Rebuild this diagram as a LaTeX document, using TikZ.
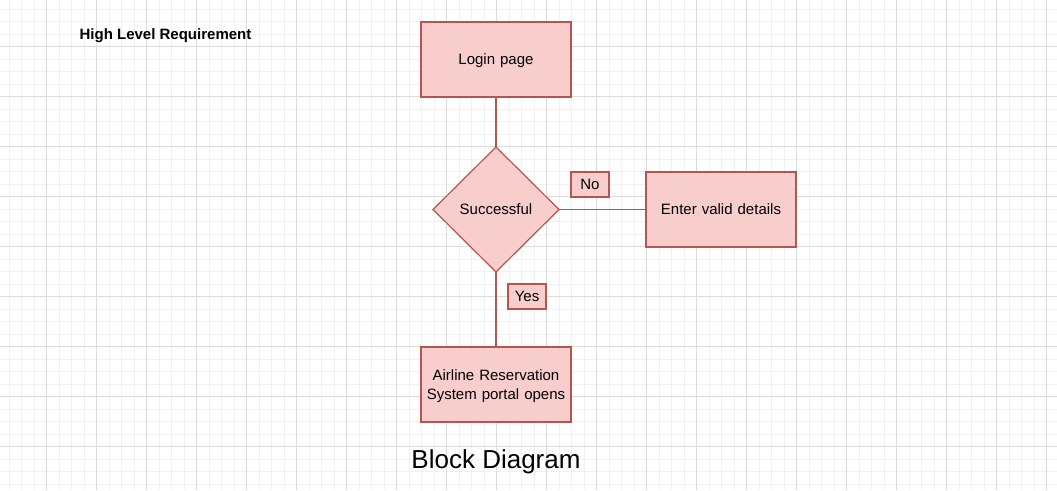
\documentclass[tikz,border=0pt]{standalone}
\usepackage{fontspec}
\setmainfont{Liberation Sans}
\usetikzlibrary{positioning,shapes.geometric}
\definecolor{boxfill}{HTML}{F8CECC}
\definecolor{boxline}{HTML}{B85450}
\definecolor{gridminor}{HTML}{F1F1F1}
\definecolor{gridmajor}{HTML}{DCDCDC}

\begin{document}
\begin{tikzpicture}[x=0.75pt, y=-0.75pt, node distance = 0pt,
    block/.style = {rectangle, draw=boxline, fill=boxfill,
                    line width=0.9pt,
                    minimum width=112.5pt, minimum height=56.25pt,
                    text width=110pt, align=center, text depth=0pt,
                    font=\fontsize{11.25}{13.75}\selectfont,
                    inner sep=0pt, outer sep=0pt},
    decide/.style = {diamond, draw=boxline, fill=boxfill,
                    line width=0.9pt,
                    minimum width=94.5pt, minimum height=93.75pt,
                    font=\fontsize{11.25}{13.75}\selectfont,
                    inner sep=0pt, outer sep=0pt},
    tag/.style = {rectangle, draw=boxline, fill=boxfill,
                    line width=0.9pt, text depth=0pt,
                    minimum width=28.5pt, minimum height=18.75pt,
                    font=\fontsize{11.25}{13.75}\selectfont,
                    inner sep=0pt, outer sep=0pt},
    link/.style = {draw=boxline, line width=0.9pt}
                            ]

    % background grid
    \fill[white] (0,0) rectangle (1057,490);
    \useasboundingbox (0,0) rectangle (1057,490);
    \foreach \g in {9,21.5,...,1057}
        \draw[gridminor, line width=0.75pt] (\g,0) -- (\g,490);
    \foreach \g in {9,21.5,...,490}
        \draw[gridminor, line width=0.75pt] (0,\g) -- (1057,\g);
    \foreach \g in {46.5,96.5,...,1057}
        \draw[gridmajor, line width=0.75pt] (\g,0) -- (\g,490);
    \foreach \g in {46.5,96.5,...,490}
        \draw[gridmajor, line width=0.75pt] (0,\g) -- (1057,\g);

    % blocks
    \node (n1) [block] at (496,59.5) {Login page};
    \node (n2) [decide, below=37.5pt of n1] {Successful};
    \node (n3) [block, right=65.25pt of n2] {Enter valid details};
    \node (n4) [block, text depth=13.75pt,
            below=56.25pt of n2] {Airline Reservation\\System portal opens};

    % connectors
    \draw[link] (n1) -- (n2);
    \draw[link] (n2) -- (n3);
    \draw[link] (n2) -- (n4);

    % labels
    \node (no)  [tag] at (590,184.5) {No};
    \node (yes) [tag] at (527,296.5) {Yes};
    \node (hl) [text depth=0pt] at (165.5,34)
        {\fontsize{11.25}{13.75}\selectfont\bfseries High Level Requirement};
    \node (bd) [text depth=0pt] at (496,459)
        {\fontsize{19.5}{23}\selectfont Block Diagram};
\end{tikzpicture}
\end{document}
